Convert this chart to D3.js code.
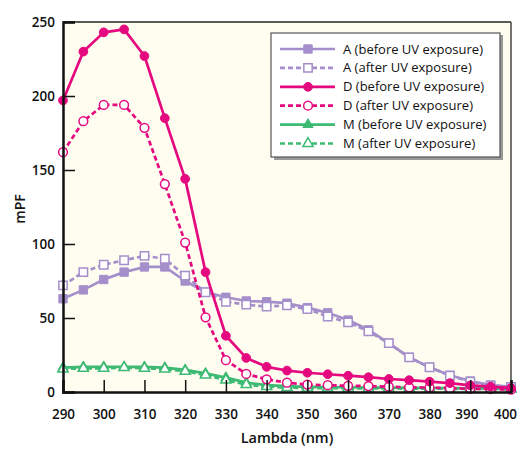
<!DOCTYPE html>
<html><head><meta charset="utf-8">
<script src="https://cdn.jsdelivr.net/npm/d3@7"></script>
<style>body{margin:0;background:#fff;}svg{display:block;font-family:"Open Sans",sans-serif;}</style>
</head><body><svg id="c" width="520" height="449"></svg>
<script>
const lambda = [290,295,300,305,310,315,320,325,330,335,340,345,350,355,360,365,370,375,380,385,390,395,400];
const aBefore = [63,69,76,81,84.5,84.5,75,67.5,64,61.5,61,60,57,53.5,48.6,42,33,23.4,16.7,11.3,7.4,4.7,3.6];
const aAfter  = [72,81,86,89,92,90,78.6,67.4,61,59,57.7,58.5,56,51,47,41,33,23.4,16.7,11,7,4.3,3.5];
const dBefore = [197,230,243,245,227,185,144,81,38,23,17,14.5,13,12,11,10,8.8,8,7,6,4.5,3.6,2.7];
const dAfter  = [162,183,194,194,178.5,140.5,101,50.5,21.5,12.2,8.6,6.3,5,4.6,4.2,4,3.6,3.2,3,2.6,2.2,2,1.6];
const mBefore = [16.5,17,17,17,17,16.5,15,12.6,9.7,6.3,4.7,4,3.5,3.3,3.2,3,3,2.8,2.7,2.6,2.5,2.4,2.3];
const mAfter  = [15.5,16,16,16.5,16,15.5,14,11.5,8,5,3.6,3,2.7,2.6,2.5,2.4,2.4,2.3,2.2,2.2,2.1,2,2];
const xTicks = [290,300,310,320,330,340,350,360,370,380,390,400];
const yTicks = [0,50,100,150,200,250];
const seriesNames = ["A (before UV exposure)","A (after UV exposure)","D (before UV exposure)","D (after UV exposure)","M (before UV exposure)","M (after UV exposure)"];

const colA = "#a58fcb", colD = "#e5097f", colM = "#3dba73";
const series = [
  {name: seriesNames[0], vals: aBefore, color: colA, dash: null, sym: "square", fill: true},
  {name: seriesNames[1], vals: aAfter, color: colA, dash: "5,3", sym: "square", fill: false},
  {name: seriesNames[2], vals: dBefore, color: colD, dash: null, sym: "circle", fill: true},
  {name: seriesNames[3], vals: dAfter, color: colD, dash: "5,3", sym: "circle", fill: false},
  {name: seriesNames[4], vals: mBefore, color: colM, dash: null, sym: "triangle", fill: true},
  {name: seriesNames[5], vals: mAfter, color: colM, dash: "5,3", sym: "triangle", fill: false}
];
const drawOrder = [4,5,0,1,3,2];

const svg = d3.select("#c");
const L = 63, R = 511, T = 22, B = 392;
const x = d3.scaleLinear().domain([290,400]).range([L,R]);
const y = d3.scaleLinear().domain([0,250]).range([B,T]);

svg.append("rect").attr("x",L).attr("y",T).attr("width",R-L).attr("height",B-T).attr("fill","#fffdf0");

// frame
svg.append("line").attr("x1",L).attr("x2",R).attr("y1",T).attr("y2",T).attr("stroke","#222").attr("stroke-width",1.5);
svg.append("line").attr("x1",R).attr("x2",R).attr("y1",T).attr("y2",B).attr("stroke","#444").attr("stroke-width",1.5);

const symGen = {
  square: d3.symbol().type(d3.symbolSquare).size(70),
  circle: d3.symbol().type(d3.symbolCircle).size(60),
  triangle: d3.symbol().type(d3.symbolTriangle).size(45)
};

const line = d3.line().x((d,i)=>x(lambda[i])).y(d=>y(d));
drawOrder.forEach(k=>{
  const s = series[k];
  const g = svg.append("g");
  g.append("path").attr("d", line(s.vals)).attr("fill","none").attr("stroke",s.color)
    .attr("stroke-width",2.7).attr("stroke-dasharray",s.dash).attr("stroke-linejoin","round");
  g.selectAll("path.m").data(s.vals).join("path").attr("class","m")
    .attr("transform",(d,i)=>`translate(${x(lambda[i])},${y(d)})`)
    .attr("d", symGen[s.sym]())
    .attr("fill", s.fill ? s.color : "#fff").attr("stroke", s.color).attr("stroke-width", s.fill?1:1.5);
});

// axes
const xAxis = svg.append("g").attr("transform",`translate(0,${B})`)
  .call(d3.axisBottom(x).tickValues(xTicks).tickSize(-12).tickPadding(17).tickFormat(d3.format("d")));
const yAxis = svg.append("g").attr("transform",`translate(${L},0)`)
  .call(d3.axisLeft(y).tickValues(yTicks).tickSize(-12).tickPadding(8));
[xAxis,yAxis].forEach(a=>{
  a.select(".domain").attr("stroke","#111").attr("stroke-width",2.5);
  a.selectAll(".tick line").attr("stroke","#111").attr("stroke-width",1.5);
  a.selectAll(".tick text").attr("fill","#111").style("font-size","13.5px").style("font-weight","600").style("font-family","'Open Sans',sans-serif");
});
yAxis.selectAll(".tick text").attr("x",-8);
xAxis.selectAll(".tick text").attr("dx", d => d===400 ? -6 : d===390 ? -4 : d===360 ? -3 : 0);

svg.append("text").attr("x",287).attr("y",443).attr("text-anchor","middle")
  .style("font-size","14.5px").style("font-weight","600").attr("fill","#111").text("Lambda (nm)");
svg.append("text").attr("transform","translate(25,209) rotate(-90)").attr("text-anchor","middle")
  .style("font-size","14px").style("font-weight","600").attr("fill","#111").text("mPF");

// legend
const lg = svg.append("g");
lg.append("rect").attr("x",274).attr("y",35).attr("width",229).attr("height",125).attr("fill","#999");
lg.append("rect").attr("x",271).attr("y",33).attr("width",229).attr("height",124).attr("fill","#fff").attr("stroke","#555").attr("stroke-width",1.2);
series.forEach((s,i)=>{
  const yy = 49 + i*18.9;
  lg.append("line").attr("x1",280).attr("x2",335).attr("y1",yy).attr("y2",yy)
    .attr("stroke",s.color).attr("stroke-width",2.7).attr("stroke-dasharray",s.dash);
  lg.append("path").attr("transform",`translate(308,${yy})`).attr("d",symGen[s.sym]())
    .attr("fill", s.fill ? s.color : "#fff").attr("stroke", s.color).attr("stroke-width", s.fill?1:1.5);
  lg.append("text").attr("x",343).attr("y",yy+4.5).style("font-size","13px").style("font-weight","500")
    .attr("fill","#111").text(s.name);
});
</script></body></html>
